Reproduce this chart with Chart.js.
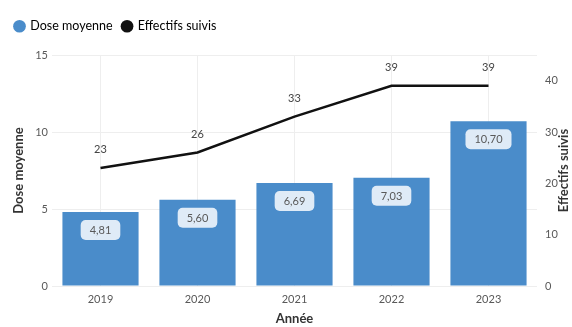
<!DOCTYPE html>
<html lang="fr">
<head>
<meta charset="utf-8">
<title>Dose moyenne et effectifs suivis</title>
<script src="https://cdn.jsdelivr.net/npm/chart.js@4/dist/chart.umd.min.js"></script>
<style>
  html, body { margin: 0; padding: 0; background: #fff; }
  #wrap { width: 572px; height: 327px; }
</style>
</head>
<body>
<div id="wrap"><canvas id="doseChart" width="572" height="327"></canvas></div>
<script>
/* ---- Données ---- */
const years = ["2019", "2020", "2021", "2022", "2023"];
const doseMoyenne = [4.81, 5.60, 6.69, 7.03, 10.70];
const effectifs = [23, 26, 33, 39, 39];
const doseTicks = [0, 5, 10, 15];
const effectifTicks = [0, 10, 20, 30, 40];

const colors = {
  bar: "#4a8cca",
  line: "#111111",
  text: "#595959",
  title: "#333333",
  grid: "#eeeeee"
};

const baseFont = "Lato, 'Open Sans', sans-serif";

/* ---- Hauteur fixe de la légende ---- */
const legendHeight = {
  id: "legendHeight",
  beforeInit(chart) {
    const fit = chart.legend.fit;
    chart.legend.fit = function () {
      fit.call(this);
      this.height = 45;
    };
  }
};

/* ---- Titre de l'axe droit, lu de bas en haut ---- */
const rightTitle = {
  id: "rightTitle",
  afterDraw(chart) {
    const ctx = chart.ctx;
    const area = chart.chartArea;
    ctx.save();
    ctx.translate(564, (area.top + area.bottom) / 2);
    ctx.rotate(-Math.PI / 2);
    ctx.font = "bold 13px " + baseFont;
    ctx.fillStyle = colors.title;
    ctx.textAlign = "center";
    ctx.textBaseline = "middle";
    ctx.fillText("Effectifs suivis", 0, 0);
    ctx.restore();
  }
};

/* ---- Étiquettes de valeurs (barres + ligne) ---- */
const valueLabels = {
  id: "valueLabels",
  afterDatasetsDraw(chart) {
    const ctx = chart.ctx;
    ctx.save();
    ctx.font = "11px " + baseFont;
    ctx.textAlign = "center";
    ctx.textBaseline = "middle";

    // dose : boîte claire arrondie dans le haut de la barre
    chart.getDatasetMeta(0).data.forEach((bar, i) => {
      const txt = doseMoyenne[i].toFixed(2).replace(".", ",");
      const w = ctx.measureText(txt).width + 18;
      const h = 20;
      const cx = bar.x;
      const cy = bar.y + 18;
      ctx.fillStyle = "rgba(236,243,251,0.92)";
      ctx.beginPath();
      ctx.roundRect(cx - w / 2, cy - h / 2, w, h, 5);
      ctx.fill();
      ctx.fillStyle = colors.text;
      ctx.fillText(txt, cx, cy + 0.5);
    });

    // effectifs : valeur au-dessus du point
    chart.getDatasetMeta(1).data.forEach((pt, i) => {
      ctx.fillStyle = "#444";
      ctx.fillText(String(effectifs[i]), pt.x, pt.y - 18);
    });
    ctx.restore();
  }
};

new Chart(document.getElementById("doseChart"), {
  data: {
    labels: years,
    datasets: [
      {
        type: "bar",
        label: "Dose moyenne",
        data: doseMoyenne,
        yAxisID: "yDose",
        backgroundColor: colors.bar,
        barPercentage: 0.785,
        categoryPercentage: 1,
        order: 2
      },
      {
        type: "line",
        label: "Effectifs suivis",
        data: effectifs,
        yAxisID: "yEff",
        borderColor: colors.line,
        backgroundColor: colors.line,
        borderWidth: 2.5,
        pointRadius: 0,
        tension: 0,
        order: 1
      }
    ]
  },
  options: {
    responsive: false,
    animation: false,
    layout: { padding: { left: 5, right: 0, top: 10, bottom: 0 } },
    plugins: {
      legend: {
        position: "top",
        align: "start",
        labels: {
          usePointStyle: true,
          pointStyle: "circle",
          boxWidth: 9,
          boxHeight: 9,
          padding: 10,
          color: "#444",
          font: { family: baseFont, size: 12.5 },
          generateLabels(chart) {
            return chart.data.datasets.map((ds, i) => ({
              text: ds.label,
              fillStyle: i === 0 ? colors.bar : colors.line,
              strokeStyle: i === 0 ? colors.bar : colors.line,
              lineWidth: 0,
              pointStyle: "circle",
              datasetIndex: i
            }));
          }
        }
      },
      tooltip: { enabled: false }
    },
    scales: {
      x: {
        afterFit(axis) { axis.height = 41; },
        grid: { color: colors.grid, offset: false, drawTicks: false },
        border: { display: false },
        ticks: { color: colors.text, font: { family: baseFont, size: 11 }, padding: 7 },
        title: {
          display: true,
          text: "Année",
          color: colors.title,
          font: { family: baseFont, size: 13, weight: "bold" },
          padding: { top: 0, bottom: 0 }
        }
      },
      yDose: {
        position: "left",
        min: 0,
        max: 15,
        afterFit(axis) { axis.width = 47; },
        afterBuildTicks(axis) { axis.ticks = doseTicks.map(v => ({ value: v })); },
        grid: { color: colors.grid, drawTicks: false },
        border: { display: false },
        ticks: { color: colors.text, font: { family: baseFont, size: 11 }, padding: 4 },
        title: {
          display: true,
          text: "Dose moyenne",
          color: colors.title,
          font: { family: baseFont, size: 13, weight: "bold" },
          padding: { top: 6, bottom: 0 }
        }
      },
      yEff: {
        position: "right",
        min: 0,
        max: 45,
        afterFit(axis) { axis.width = 35; },
        afterBuildTicks(axis) { axis.ticks = effectifTicks.map(v => ({ value: v })); },
        grid: { display: false },
        border: { display: false },
        ticks: { color: colors.text, font: { family: baseFont, size: 11 }, padding: 0 }
      }
    }
  },
  plugins: [legendHeight, valueLabels, rightTitle]
});
</script>
</body>
</html>
